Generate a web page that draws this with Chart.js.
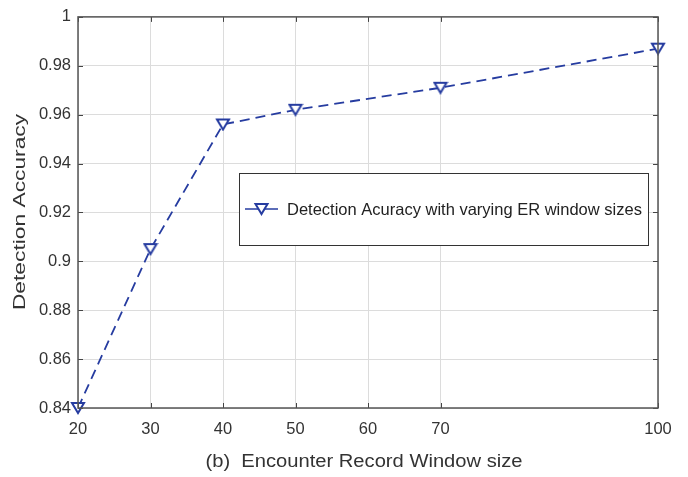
<!DOCTYPE html>
<html>
<head>
<meta charset="utf-8">
<script src="https://cdn.jsdelivr.net/npm/chart.js@4"></script>
<style>
  html, body { margin: 0; padding: 0; background: #fff; }
  #wrap { width: 688px; height: 477px; }
</style>
</head>
<body>
<div id="wrap"><canvas id="grafico" width="688" height="477"></canvas></div>
<script>
// Datos
const tamanos = [20, 30, 40, 50, 70, 100];
const precision = [0.840, 0.905, 0.956, 0.962, 0.971, 0.987];
const ticksX = [20, 30, 40, 50, 60, 70, 100];
const ticksY = [0.84, 0.86, 0.88, 0.90, 0.92, 0.94, 0.96, 0.98, 1.0];
const etiquetaSerie = 'Detection Acuracy with varying ER window sizes';
const tituloX = '(b)  Encounter Record Window size';
const tituloY = 'Detection Accuracy';

const azul = 'rgb(38, 60, 160)';
const fuente = "'Liberation Sans', Arial, sans-serif";

// Marcador triangulo hacia abajo, centrado en su caja (como el 'v' de MATLAB)
function dibujarTriangulo(c, cx, cy) {
    c.beginPath();
    c.moveTo(cx - 6, cy - 5);
    c.lineTo(cx + 6, cy - 5);
    c.lineTo(cx, cy + 5);
    c.closePath();
    c.fillStyle = '#fff';
    c.fill();
    c.strokeStyle = azul;
    c.lineWidth = 2;
    c.stroke();
}
const marcador = document.createElement('canvas');
marcador.width = 16;
marcador.height = 14;
dibujarTriangulo(marcador.getContext('2d'), 8, 7);

// Caja del eje, titulos y leyenda dentro del area (estilo MATLAB)
const cajaLeyenda = {
    id: 'cajaLeyenda',
    afterDraw(chart) {
        const { ctx, chartArea: a, scales } = chart;
        ctx.save();
        // marcas interiores
        ctx.strokeStyle = '#444';
        ctx.lineWidth = 1;
        ticksX.forEach(v => {
            const x = Math.round(scales.x.getPixelForValue(v)) + 0.5;
            ctx.beginPath();
            ctx.moveTo(x, a.bottom); ctx.lineTo(x, a.bottom - 5);
            ctx.moveTo(x, a.top); ctx.lineTo(x, a.top + 5);
            ctx.stroke();
        });
        ticksY.forEach(v => {
            const y = Math.round(scales.y.getPixelForValue(v)) + 0.5;
            ctx.beginPath();
            ctx.moveTo(a.left, y); ctx.lineTo(a.left + 5, y);
            ctx.moveTo(a.right, y); ctx.lineTo(a.right - 5, y);
            ctx.stroke();
        });
        ctx.strokeStyle = '#555';
        ctx.lineWidth = 1.5;
        ctx.strokeRect(a.left, a.top, a.right - a.left, a.bottom - a.top);

        // titulos de los ejes (texto algo estirado como en la figura)
        ctx.fillStyle = '#333';
        ctx.textAlign = 'center';
        ctx.textBaseline = 'middle';
        ctx.font = '18px ' + fuente;
        ctx.save();
        ctx.translate((a.left + a.right) / 2 - 4, 462);
        ctx.scale(1.12, 1);
        ctx.fillText(tituloX, 0, 0);
        ctx.restore();
        ctx.font = '17px ' + fuente;
        ctx.save();
        ctx.translate(20, 212);
        ctx.rotate(-Math.PI / 2);
        ctx.scale(1.34, 1);
        ctx.fillText(tituloY, 0, 0);
        ctx.restore();

        // leyenda
        const lx = 239, ly = 173, lw = 409, lh = 72;
        ctx.fillStyle = '#fff';
        ctx.fillRect(lx, ly, lw, lh);
        ctx.strokeStyle = '#333';
        ctx.lineWidth = 1;
        ctx.strokeRect(lx + 0.5, ly + 0.5, lw, lh);
        const cy = ly + lh / 2;
        ctx.strokeStyle = azul;
        ctx.lineWidth = 1.5;
        ctx.beginPath();
        ctx.moveTo(245, cy); ctx.lineTo(278, cy);
        ctx.stroke();
        dibujarTriangulo(ctx, 261.5, cy);
        ctx.fillStyle = '#222';
        ctx.font = '16.5px ' + fuente;
        ctx.textBaseline = 'middle';
        ctx.textAlign = 'left';
        ctx.fillText(etiquetaSerie, 287, cy + 1);
        ctx.restore();
    }
};

new Chart(document.getElementById('grafico').getContext('2d'), {
    type: 'line',
    data: {
        datasets: [{
            label: etiquetaSerie,
            data: tamanos.map((t, i) => ({ x: t, y: precision[i] })),
            borderColor: azul,
            borderWidth: 1.8,
            borderDash: [10, 6],
            fill: false,
            tension: 0,
            pointStyle: marcador,
            pointRadius: 7
        }]
    },
    options: {
        responsive: false,
        animation: false,
        clip: false,
        layout: { padding: { left: 0, right: 30, top: 11, bottom: 0 } },
        plugins: {
            legend: { display: false },
            tooltip: { enabled: false }
        },
        scales: {
            x: {
                type: 'linear',
                min: 20,
                max: 100,
                afterBuildTicks: s => { s.ticks = ticksX.map(v => ({ value: v })); },
                afterFit: s => { s.height = 69; },
                grid: { color: '#dcdcdc', drawTicks: false },
                border: { display: false },
                ticks: {
                    color: '#333',
                    font: { family: fuente, size: 16.5 },
                    padding: 12,
                    maxRotation: 0
                }
            },
            y: {
                min: 0.84,
                max: 1.0,
                afterBuildTicks: s => { s.ticks = ticksY.map(v => ({ value: v })); },
                afterFit: s => { s.width = 78; },
                grid: { color: '#dcdcdc', drawTicks: false },
                border: { display: false },
                ticks: {
                    color: '#333',
                    font: { family: fuente, size: 16.5 },
                    padding: 7,
                    callback: v => String(Math.round(v * 100) / 100)
                }
            }
        }
    },
    plugins: [cajaLeyenda]
});
</script>
</body>
</html>
